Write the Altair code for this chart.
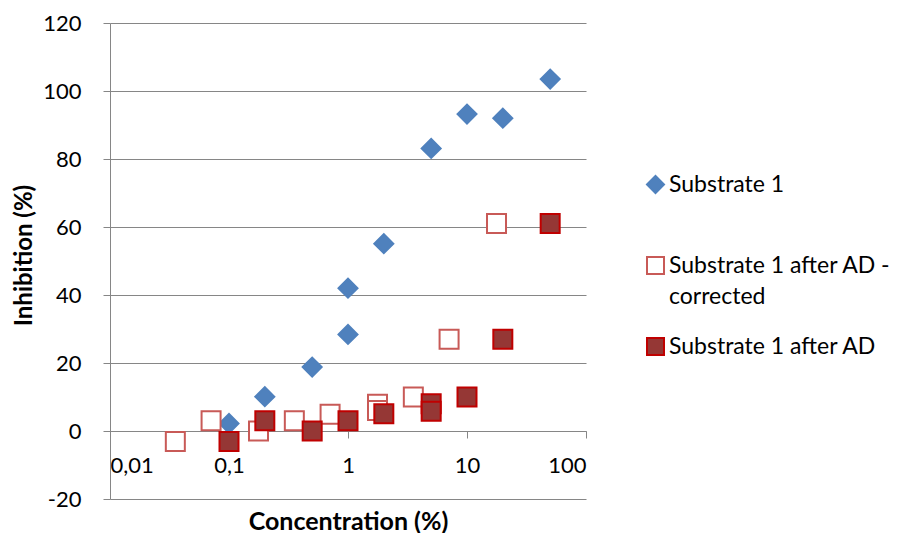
import altair as alt
import pandas as pd

series_names = ["Substrate 1", "Substrate 1 after AD - corrected", "Substrate 1 after AD"]

s1_conc = [0.1, 0.2, 0.5, 1, 1, 2, 5, 10, 20, 50]
s1_inhib = [2.2, 10.1, 18.8, 28.4, 42.0, 55.1, 83.1, 93.2, 92.0, 103.5]

corr_conc = [0.0354, 0.0707, 0.177, 0.354, 0.707, 1.77, 1.77, 3.54, 7.07, 17.7]
corr_inhib = [-3.1, 3.0, 0.0, 3.0, 4.9, 7.9, 6.0, 10.0, 27.0, 61.0]

ad_conc = [0.1, 0.2, 0.5, 1, 2, 5, 5, 10, 20, 50]
ad_inhib = [-3.1, 3.0, 0.0, 3.0, 5.1, 8.0, 5.8, 10.0, 27.0, 61.0]

x_ticks = [0.01, 0.1, 1, 10, 100]
y_ticks = [-20, 0, 20, 40, 60, 80, 100, 120]

fill_colors = ["#4F81BD", "#FFFFFF", "#953735"]
stroke_colors = ["#4F81BD", "#C85A57", "#C00000"]
shapes = ["diamond", "square", "square"]

rows = []
for name, xs, ys in [
    (series_names[0], s1_conc, s1_inhib),
    (series_names[1], corr_conc, corr_inhib),
    (series_names[2], ad_conc, ad_inhib),
]:
    for xv, yv in zip(xs, ys):
        rows.append({"series": name, "conc": xv, "inhib": yv})
df = pd.DataFrame(rows)

FONT = "Lato"
GRID = "#868686"

legend = alt.Legend(
    title=None,
    labelExpr=(
        "datum.label == 'Substrate 1 after AD - corrected' ? ['Substrate 1 after AD -', 'corrected'] "
        ": [datum.label, '']"
    ),
)

chart = (
    alt.Chart(df)
    .mark_point(opacity=1, fillOpacity=1, size=361, strokeWidth=2)
    .encode(
        x=alt.X(
            "conc:Q",
            scale=alt.Scale(type="log", domain=[0.01, 100]),
            axis=alt.Axis(
                values=x_ticks,
                labelExpr="replace(toString(datum.value), '.', ',')",
                title="Concentration (%)",
                offset=-68,
                grid=False,
                domainColor=GRID,
                tickColor=GRID,
                tickSize=7,
                labelPadding=17,
                labelFont=FONT,
                labelFontSize=22,
                labelColor="black",
                titleFont=FONT,
                titleFontSize=25,
                titleFontWeight="bold",
                titleColor="black",
                titleY=98,
                titleBaseline="alphabetic",
            ),
        ),
        y=alt.Y(
            "inhib:Q",
            scale=alt.Scale(domain=[-20, 120], nice=False),
            axis=alt.Axis(
                values=y_ticks,
                labelExpr="toString(datum.value)",
                title="Inhibition (%)",
                grid=True,
                gridColor=GRID,
                gridWidth=1.2,
                domainColor=GRID,
                tickColor=GRID,
                tickSize=7,
                labelPadding=22,
                labelFont=FONT,
                labelFontSize=22,
                labelColor="black",
                titleFont=FONT,
                titleFontSize=24,
                titleFontWeight="bold",
                titleColor="black",
                titleX=-86,
                titleY=232,
                titleBaseline="middle",
            ),
        ),
        fill=alt.Fill("series:N", scale=alt.Scale(domain=series_names, range=fill_colors), legend=legend),
        stroke=alt.Stroke("series:N", scale=alt.Scale(domain=series_names, range=stroke_colors), legend=legend),
        shape=alt.Shape("series:N", scale=alt.Scale(domain=series_names, range=shapes), legend=legend),
    )
    .properties(
        width=476,
        height=476,
        autosize="none",
        padding={"left": 102, "top": 15, "right": 310, "bottom": 34},
    )
    .configure(style={"guide-label": {"lineHeight": 31}})
    .configure_view(stroke=None)
    .configure_legend(
        orient="none",
        legendX=534,
        legendY=150,
        padding=0,
        labelFont=FONT,
        labelFontSize=23,
        labelColor="black",
        labelLimit=400,
        labelOffset=2,
        symbolSize=289,
        symbolStrokeWidth=2,
        rowPadding=25,
    )
)

chart.save("out.html", embed_options={"renderer": "svg", "actions": False})
